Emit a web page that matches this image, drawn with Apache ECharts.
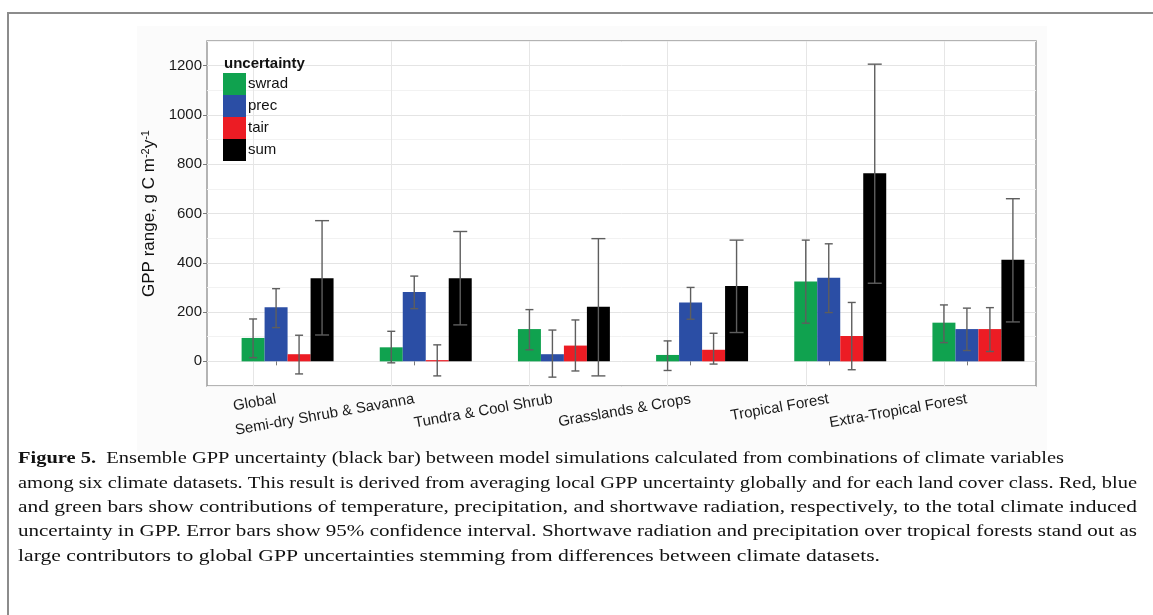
<!DOCTYPE html>
<html>
<head>
<meta charset="utf-8">
<script src="https://cdn.jsdelivr.net/npm/echarts@6/dist/echarts.min.js"></script>
<style>
html,body{margin:0;padding:0;background:#fff;}
#chart{width:1153px;height:615px;}
</style>
</head>
<body>
<div id="chart"></div>
<script>
// ---- data ----
const categories = ['Global', 'Semi-dry Shrub & Savanna', 'Tundra & Cool Shrub', 'Grasslands & Crops', 'Tropical Forest', 'Extra-Tropical Forest'];
const seriesNames = ['swrad', 'prec', 'tair', 'sum'];
const swrad = [95, 57, 131, 26, 324, 157];
const prec = [220, 281, 29, 239, 339, 131];
const tair = [29, 5, 64, 47, 103, 131];
const sum = [337, 337, 222, 306, 763, 412];
const swradLow = [15, -6, 47, -37, 155, 76];
const swradHigh = [172, 122, 210, 83, 492, 229];
const precLow = [137, 214, -64, 171, 198, 44];
const precHigh = [295, 346, 127, 300, 477, 216];
const tairLow = [-51, -59, -39, -11, -34, 40];
const tairHigh = [106, 67, 168, 114, 239, 218];
const sumLow = [107, 148, -59, 117, 317, 160];
const sumHigh = [571, 527, 498, 492, 1206, 660];
const yTicks = [0, 200, 400, 600, 800, 1000, 1200];
const captionLines = [
  'Ensemble GPP uncertainty (black bar) between model simulations calculated from combinations of climate variables',
  'among six climate datasets. This result is derived from averaging local GPP uncertainty globally and for each land cover class. Red, blue',
  'and green bars show contributions of temperature, precipitation, and shortwave radiation, respectively, to the total climate induced',
  'uncertainty in GPP. Error bars show 95% confidence interval. Shortwave radiation and precipitation over tropical forests stand out as',
  'large contributors to global GPP uncertainties stemming from differences between climate datasets.'
];
const captionLabel = 'Figure 5.';

// ---- styles ----
const colors = ['#10a24f', '#2b4ea5', '#ec1c24', '#000000'];
const whiskerW = [8, 8, 8, 14];
const nSlots = 5;          // ggplot dodge had one empty slot first
const catGap = 0.168;      // fraction of band left empty
const sansFont = '"Liberation Sans", Arial, sans-serif';
const serifFont = '"Liberation Serif", "DejaVu Serif", serif';
const capLineEnds = [1064, 1137, 1137, 1137, 880];   // right ends of caption lines

const values = [swrad, prec, tair, sum];
const lows = [swradLow, precLow, tairLow, sumLow];
const highs = [swradHigh, precHigh, tairHigh, sumHigh];

const chart = echarts.init(document.getElementById('chart'));

const series = [];
// empty first dodge slot
series.push({
  type: 'bar', name: '_empty', data: categories.map(() => '-'),
  barGap: '0%', barCategoryGap: (catGap * 100) + '%', silent: true
});
values.forEach((arr, i) => {
  const s = {
    type: 'bar', name: seriesNames[i], data: arr,
    barGap: '0%', barCategoryGap: (catGap * 100) + '%',
    itemStyle: { color: colors[i] }, z: 2, silent: true
  };
  if (i === 0) {
    s.markLine = {
      silent: true, symbol: 'none', z: 1, animation: false,
      label: { show: false },
      lineStyle: { color: '#e6e6e6', type: 'solid', width: 1 },
      data: categories.map(c => ({ xAxis: c }))
    };
  }
  series.push(s);
});
values.forEach((arr, i) => {
  const slot = i + 1;
  series.push({
    type: 'custom', name: seriesNames[i] + '_err', z: 3, silent: true,
    data: categories.map((c, k) => [k, lows[i][k], highs[i][k]]),
    renderItem: function (params, api) {
      const band = api.size([1, 0])[0];
      const barW = band * (1 - catGap) / nSlots;
      const xc = api.coord([api.value(0), 0])[0] + (slot - (nSlots - 1) / 2) * barW;
      const y1 = api.coord([api.value(0), api.value(1)])[1];
      const y2 = api.coord([api.value(0), api.value(2)])[1];
      const h = whiskerW[i] / 2;
      const st = { stroke: '#5e5e5e', lineWidth: 1.4 };
      return {
        type: 'group', children: [
          { type: 'line', shape: { x1: xc, y1: y1, x2: xc, y2: y2 }, style: st },
          { type: 'line', shape: { x1: xc - h, y1: y1, x2: xc + h, y2: y1 }, style: st },
          { type: 'line', shape: { x1: xc - h, y1: y2, x2: xc + h, y2: y2 }, style: st }
        ]
      };
    }
  });
});

// caption graphics (each line fitted to the reference's line width)
const capSize = 17;
const capX = 18, capY0 = 459, capDy = 24.3;
const cv = document.createElement('canvas').getContext('2d');
const regFont = capSize + 'px ' + serifFont;
const boldFont = 'bold ' + capSize + 'px ' + serifFont;
cv.font = boldFont;
const wBold = cv.measureText(captionLabel + '  ').width;
const graphics = [
  { type: 'rect', z: -10, shape: { x: 137, y: 26, width: 910, height: 427 }, style: { fill: '#fbfbfb' } },
  { type: 'rect', z: 100, shape: { x: 8, y: 13, width: 1200, height: 700 }, style: { fill: 'none', stroke: '#8c8c8c', lineWidth: 2 } },
  { type: 'text', z: 100, left: 224, top: 56, style: { text: 'uncertainty', font: 'bold 15px ' + sansFont, fill: '#111' } }
];
captionLines.forEach((line, i) => {
  cv.font = regFont;
  const wLine = cv.measureText(line).width + (i === 0 ? wBold : 0);
  const sc = (capLineEnds[i] - capX) / wLine;
  let x = capX;
  if (i === 0) {
    graphics.push({ type: 'text', z: 100, x: capX, y: capY0, scaleX: sc,
      style: { text: captionLabel, font: boldFont, fill: '#111', verticalAlign: 'middle', align: 'left' } });
    x = capX + wBold * sc;
  }
  graphics.push({ type: 'text', z: 100, x: x, y: capY0 + i * capDy, scaleX: sc,
    style: { text: line, font: regFont, fill: '#111', verticalAlign: 'middle', align: 'left' } });
});

chart.setOption({
  animation: false,
  backgroundColor: '#ffffff',
  textStyle: { fontFamily: sansFont },
  grid: { left: 207, top: 41, width: 829, height: 345, show: true, backgroundColor: '#ffffff', borderColor: '#9c9c9c', borderWidth: 1.5 },
  legend: {
    data: seriesNames, orient: 'vertical', left: 223, top: 73, padding: 0,
    itemWidth: 23, itemHeight: 22, itemGap: 0, icon: 'rect', selectedMode: false,
    textStyle: { fontSize: 15, color: '#111', fontFamily: sansFont, padding: [0, 0, 0, -3] }
  },
  xAxis: {
    type: 'category', data: categories, boundaryGap: true,
    axisLine: { show: false },
    axisTick: { show: true, alignWithLabel: true, length: 4, lineStyle: { color: '#7a7a7a' } },
    axisLabel: { interval: 0, rotate: 10, fontSize: 15, color: '#1a1a1a', margin: 13, fontFamily: sansFont },
    splitLine: { show: false }
  },
  yAxis: [
    {
      type: 'value', min: -100, max: 1300, interval: 100, position: 'left',
      axisLine: { show: false }, axisTick: { show: false }, axisLabel: { show: false },
      splitLine: { show: true, lineStyle: { color: ['#f2f2f2', '#e4e4e4'], width: 1 } }
    },
    {
      type: 'value', min: -100, max: 1300, position: 'left',
      axisLine: { show: false },
      axisTick: { show: true, customValues: yTicks, length: 4, lineStyle: { color: '#7a7a7a' } },
      axisLabel: { show: true, customValues: yTicks, formatter: v => String(v), fontSize: 15, color: '#1a1a1a', margin: 5, fontFamily: sansFont },
      splitLine: { show: false },
      name: 'GPP range, g C m{s|-2}y{s|-1}', nameLocation: 'middle', nameGap: 37, nameRotate: 90,
      nameTextStyle: { fontSize: 17, color: '#111', fontFamily: sansFont,
        rich: { s: { fontSize: 11, verticalAlign: 'top', color: '#111', fontFamily: sansFont, padding: [0, 0, 6, 0] } } }
    }
  ],
  series: series,
  graphic: graphics
});
</script>
</body>
</html>
